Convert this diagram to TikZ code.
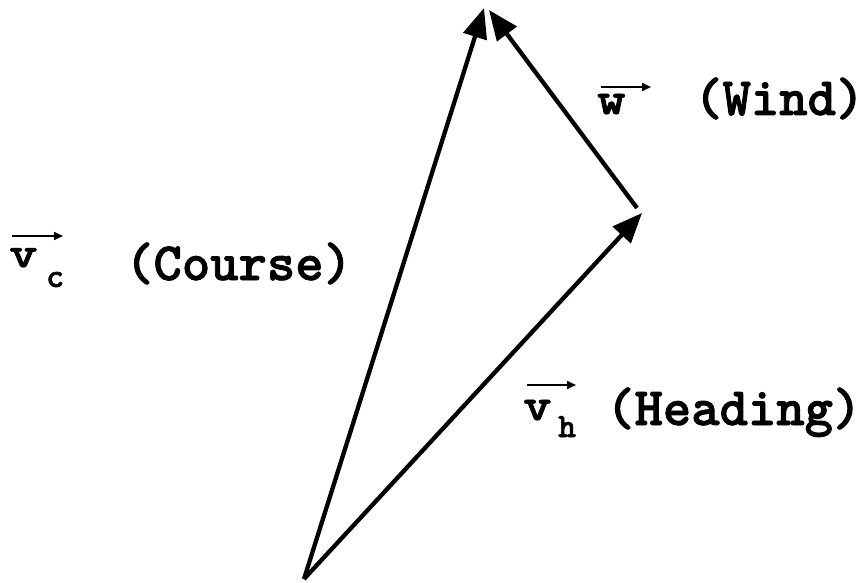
\documentclass[tikz,border=0pt]{standalone}
\usepackage{fontspec}
\newfontfamily\cour[FakeBold=1.6]{lmmonolt10-bold.otf}
\usetikzlibrary{arrows.meta}
\begin{document}
\begin{tikzpicture}[x=1pt,y=-1pt,
  vec/.style={line width=4.3pt, -{Triangle[length=30pt,width=24pt]}},
  bar/.style={line width=1.6pt, -{Triangle[length=9pt,width=8pt]}},
  lbl/.style={inner sep=0pt, anchor=base west, font=\fontsize{54}{54}\selectfont\cour},
  sub/.style={inner sep=0pt, anchor=base west, font=\fontsize{34}{34}\selectfont\cour}]
\useasboundingbox (0,0) rectangle (864,583);
\coordinate (O) at (304,579);
\coordinate (C) at (484,8);
\coordinate (H) at (642,213);
\coordinate (Wtail) at (637,208);
\coordinate (Wtip) at (489,10);
\draw[vec] (O) -- (C);
\draw[vec] (O) -- (H);
\draw[vec] (Wtail) -- (Wtip);
% wind label
\node[lbl] (wv) at (597,114) {\scalebox{1}[0.85]{w}};
\node[lbl] (wt) at (694,115) {(Wind)};
\draw[bar] (601,87) -- (651,87);
% course label
\node[lbl] (cv) at (9,267) {\scalebox{1}[0.8]{v}};
\node[sub] (cs) at (46,287) {c};
\node[lbl] (ct) at (125,280) {(Course)};
\draw[bar] (12,236) -- (63,236);
% heading label
\node[lbl] (hv) at (523,420) {\scalebox{1}[0.85]{v}};
\node[sub] (hs) at (558,437) {h};
\node[lbl] (ht) at (606,425) {(Heading)};
\draw[bar] (527,385) -- (576,385);
\end{tikzpicture}
\end{document}
